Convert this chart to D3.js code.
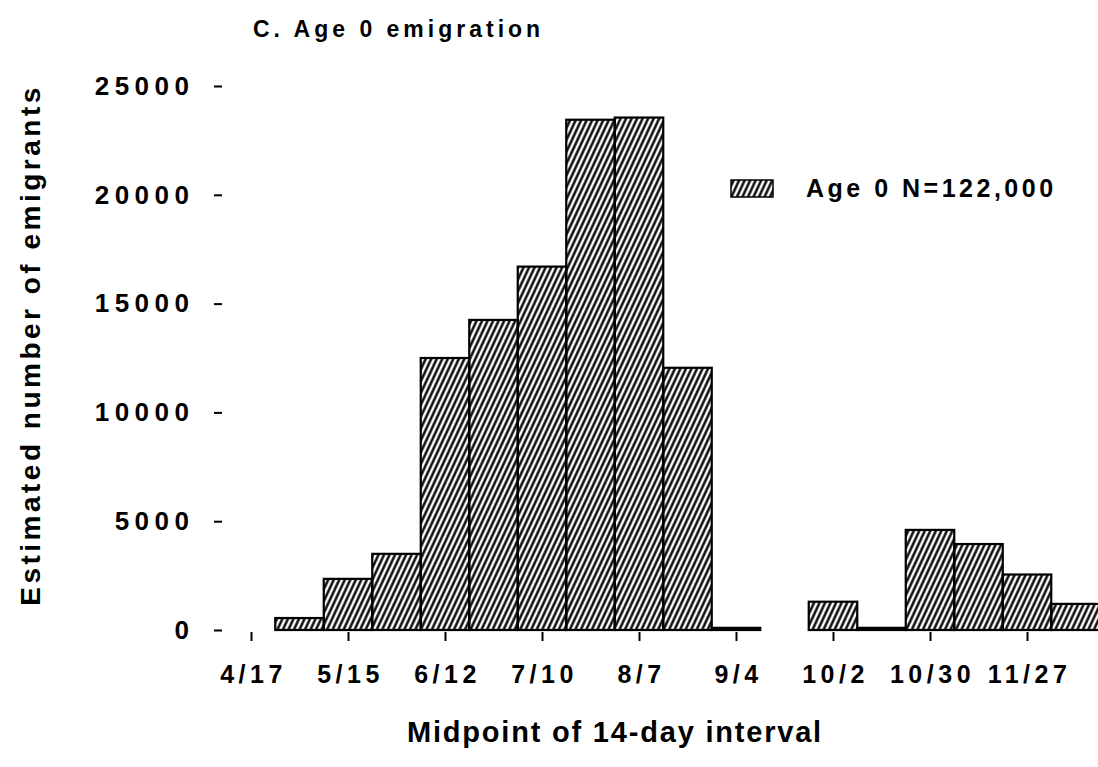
<!DOCTYPE html>
<html>
<head>
	<title>Age 0 emigration</title>
	<meta charset="UTF-8">
	<style>
		body { margin: 0; background: #fff; }
		text { font-family: "Liberation Sans", Arial, sans-serif; font-weight: bold; fill: #000; }
		.axis .domain { display: none; }
		.axis line { stroke: #000; stroke-width: 2; }
	</style>
</head>
<body>
</body>
<script src="https://d3js.org/d3.v7.min.js"></script>
<script type="text/javascript">

'use strict';

// midpoints of the 14-day intervals (9/18 has no bar)
var midpoints = ["5/1", "5/15", "5/29", "6/12", "6/26", "7/10", "7/24", "8/7", "8/21", "9/4",
	"10/2", "10/16", "10/30", "11/13", "11/27", "12/11"];
var emigrants = [550, 2350, 3500, 12500, 14250, 16700, 23450, 23550, 12050, 100,
	1300, 100, 4600, 3950, 2550, 1200];
var xTickLabels = ["4/17", "5/15", "6/12", "7/10", "8/7", "9/4", "10/2", "10/30", "11/27"];
var yTickValues = [0, 5000, 10000, 15000, 20000, 25000];
var legendLabel = "Age 0 N=122,000";

var width = 1098, height = 767;

var svg = d3.select("body").append("svg")
	.attr("width", width)
	.attr("height", height);

var parse = function(s){ return d3.timeParse("%m/%d/%Y")(s + "/1990"); };
var dayMs = 24 * 3600 * 1000;

var x = d3.scaleTime()
	.domain([parse("4/17"), parse("11/27")])
	.range([251, 1027]);

var y = d3.scaleLinear()
	.domain([0, 25000])
	.range([630, 86]);

// hatch fill
var defs = svg.append("defs");
defs.append("pattern")
		.attr("id", "hatch")
		.attr("patternUnits", "userSpaceOnUse")
		.attr("width", 5)
		.attr("height", 10)
		.attr("patternTransform", "rotate(25)")
	.append("line")
		.attr("x1", 2.5).attr("y1", 0)
		.attr("x2", 2.5).attr("y2", 10)
		.attr("stroke", "#000")
		.attr("stroke-width", 2.4);

var data = midpoints.map(function(m, i){ return {date: parse(m), value: emigrants[i]}; });

svg.append("g")
	.selectAll("rect")
	.data(data)
	.enter().append("rect")
		.attr("x", function(d){ return x(new Date(+d.date - 7 * dayMs)); })
		.attr("width", function(d){ return x(new Date(+d.date + 7 * dayMs)) - x(new Date(+d.date - 7 * dayMs)); })
		.attr("y", function(d){ return y(d.value); })
		.attr("height", function(d){ return y(0) - y(d.value); })
		.attr("fill", "url(#hatch)")
		.attr("stroke", "#000")
		.attr("stroke-width", 2.2);

// x axis (ticks only)
var xAxis = d3.axisBottom(x)
	.tickValues(xTickLabels.map(parse))
	.tickFormat(function(d, i){ return xTickLabels[i]; })
	.tickSizeOuter(0)
	.tickSize(9)
	.tickPadding(24);

svg.append("g")
	.attr("class", "axis")
	.attr("transform", "translate(0,632)")
	.call(xAxis)
	.selectAll("text")
		.style("font-size", "25px")
		.style("letter-spacing", "4.5px")
		.attr("dx", "2px");

// y axis (dash marks to the right of labels)
var yAxis = d3.axisLeft(y)
	.tickValues(yTickValues)
	.tickFormat(d3.format("d"))
	.tickSizeOuter(0)
	.tickSize(8)
	.tickPadding(25);

svg.append("g")
	.attr("class", "axis")
	.attr("transform", "translate(222,0)")
	.call(yAxis)
	.selectAll("text")
		.style("font-size", "26px")
		.style("letter-spacing", "5.5px")
		.attr("dx", "5.5px");

// title
svg.append("text")
	.attr("x", 253)
	.attr("y", 37)
	.style("font-size", "23px")
	.style("letter-spacing", "4px")
	.text("C. Age 0 emigration");

// axis titles
svg.append("text")
	.attr("transform", "translate(40,345) rotate(-90)")
	.attr("text-anchor", "middle")
	.style("font-size", "28px")
	.style("letter-spacing", "3.5px")
	.text("Estimated number of emigrants");

svg.append("text")
	.attr("x", 615)
	.attr("y", 742)
	.attr("text-anchor", "middle")
	.style("font-size", "29px")
	.style("letter-spacing", "1.8px")
	.text("Midpoint of 14-day interval");

// legend
var legend = svg.append("g").attr("transform", "translate(731,180)");
legend.append("rect")
	.attr("width", 42)
	.attr("height", 17)
	.attr("fill", "url(#hatch)")
	.attr("stroke", "#000")
	.attr("stroke-width", 1.5);
legend.append("text")
	.attr("x", 75)
	.attr("y", 17)
	.style("font-size", "25px")
	.style("letter-spacing", "3.5px")
	.text(legendLabel);

</script>
</html>
